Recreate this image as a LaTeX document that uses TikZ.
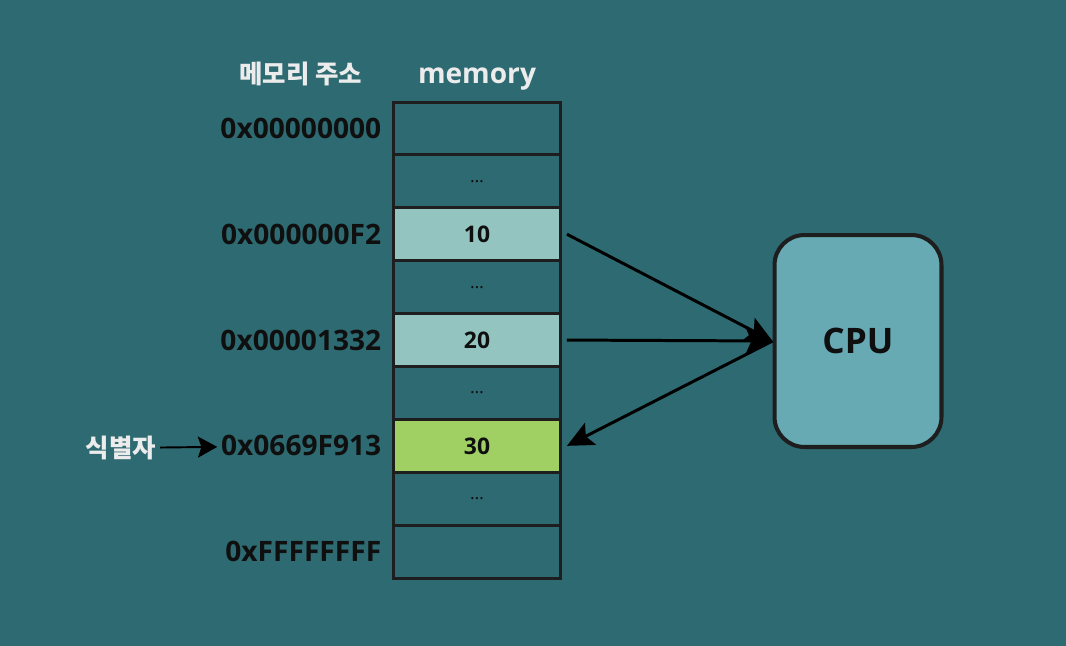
\documentclass[tikz,border=0pt]{standalone}
\usepackage{fontspec}
\setmainfont{Open Sans}
\newfontfamily\krfont{Noto Sans CJK KR}
\usepackage{tikz}
\usetikzlibrary{arrows.meta,positioning}
\definecolor{bgteal}{RGB}{46,106,114}
\definecolor{cellteal}{RGB}{147,196,192}
\definecolor{cellgreen}{RGB}{160,207,99}
\definecolor{cpufill}{RGB}{103,170,180}
\definecolor{lineblack}{RGB}{30,30,30}
\definecolor{darktext}{RGB}{15,15,15}
\definecolor{lighttext}{RGB}{236,236,236}
\tikzset{
  memcell/.style={draw=lineblack, line width=1.7pt, minimum width=3.36cm,
    minimum height=1.058cm, inner sep=0pt, text=darktext,
    font=\bfseries\fontsize{13}{15}\selectfont},
  addr/.style={text=darktext, inner sep=2pt, font=\bfseries\fontsize{16}{18}\selectfont},
  heading/.style={text=lighttext, inner sep=2pt},
  link/.style={draw=black, line width=1.7pt, -{Stealth[length=15pt,width=14pt,inset=3pt]}},
}

\begin{document}
\begin{tikzpicture}[x=0.02cm, y=-0.02cm]
% Background
\fill[bgteal] (0,0) rectangle (1066,646);
% Memory cells
\foreach \i/\val/\col in {0/{}/bgteal, 1/{\mdseries\fontsize{10}{10}\selectfont\ldots}/bgteal,
    2/10/cellteal, 3/{\mdseries\fontsize{10}{10}\selectfont\ldots}/bgteal,
    4/20/cellteal, 5/{\mdseries\fontsize{10}{10}\selectfont\ldots}/bgteal,
    6/30/cellgreen, 7/{\mdseries\fontsize{10}{10}\selectfont\ldots}/bgteal, 8/{}/bgteal}
  \node[memcell, fill=\col] (cell\i) at (477, {102+52.9*(\i+0.5)}) {\val};
% Addresses
\node[addr, left=0.13cm of cell0] (addr0) {0x00000000};
\node[addr, left=0.13cm of cell2] (addr2) {0x000000F2};
\node[addr, left=0.13cm of cell4] (addr4) {0x00001332};
\node[addr, left=0.13cm of cell6] (addr6) {0x0669F913};
\node[addr, left=0.13cm of cell8] (addr8) {0xFFFFFFFF};
% Headings
\node[heading, font=\bfseries\fontsize{16}{18}\selectfont] (memtitle) at (477,79) {memory};
\node[heading, font=\krfont\bfseries\fontsize{14.5}{16}\selectfont] (addrtitle) at (addr0 |- 0,74) {메모리 주소};
% CPU
\node[draw=lineblack, fill=cpufill, line width=2.3pt, rounded corners=0.6cm,
  minimum width=3.34cm, minimum height=4.24cm, text=darktext,
  font=\bfseries\fontsize{20}{22}\selectfont] (cpu) at (858,341) {CPU};
% Identifier
\node[heading, font=\krfont\bfseries\fontsize{14.5}{16}\selectfont] (ident) at (121,448) {식별자};
\draw[draw=black, line width=1.1pt, -{Stealth[length=11pt,width=12pt,inset=2pt]}] (ident) -- (addr6);
% Transfers
\draw[link] ([xshift=0.09cm]cell2.east) -- (cpu.west);
\draw[link] ([xshift=0.09cm]cell4.east) -- (cpu.west);
\draw[link] (cpu.west) -- ([xshift=0.09cm]cell6.east);
\end{tikzpicture}
\end{document}
